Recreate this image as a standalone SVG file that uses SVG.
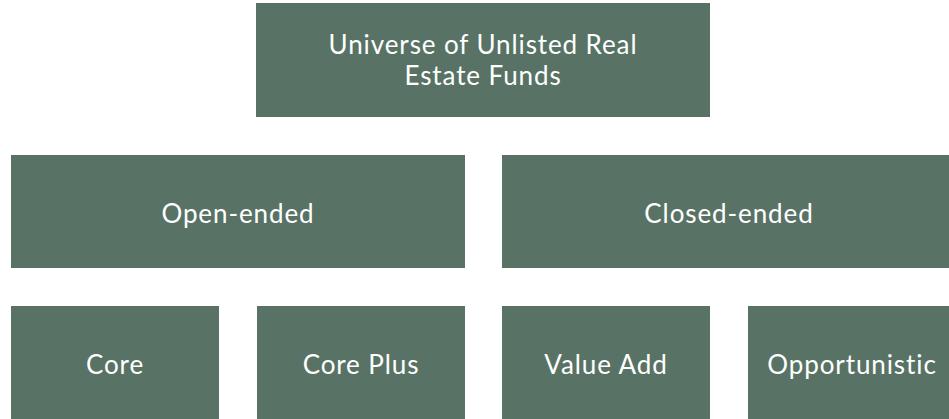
<svg xmlns="http://www.w3.org/2000/svg" width="949" height="419" viewBox="0 0 949 419">
<style>
.box{fill:#587365}
.t{font-family:Lato,"Liberation Sans",sans-serif;font-size:26px;letter-spacing:0.9px;fill:#ffffff;text-anchor:middle}
</style>
<rect width="949" height="419" fill="#ffffff"/>
<g id="connectors"></g>
<g id="universe"><rect class="box" x="256" y="3" width="454" height="114"/><text class="t" x="483" y="54">Universe of Unlisted Real</text><text class="t" x="483" y="85">Estate Funds</text></g>
<g id="open-ended"><rect class="box" x="11" y="155" width="454" height="113"/><text class="t" x="238" y="223">Open-ended</text></g>
<g id="closed-ended"><rect class="box" x="502" y="155" width="454" height="113"/><text class="t" x="729" y="223">Closed-ended</text></g>
<g id="core"><rect class="box" x="11" y="306" width="208" height="113"/><text class="t" x="115" y="374">Core</text></g>
<g id="core-plus"><rect class="box" x="257" y="306" width="208" height="113"/><text class="t" x="361" y="374">Core Plus</text></g>
<g id="value-add"><rect class="box" x="502" y="306" width="208" height="113"/><text class="t" x="606" y="374">Value Add</text></g>
<g id="opportunistic"><rect class="box" x="748" y="306" width="208" height="113"/><text class="t" x="852" y="374">Opportunistic</text></g>
</svg>
